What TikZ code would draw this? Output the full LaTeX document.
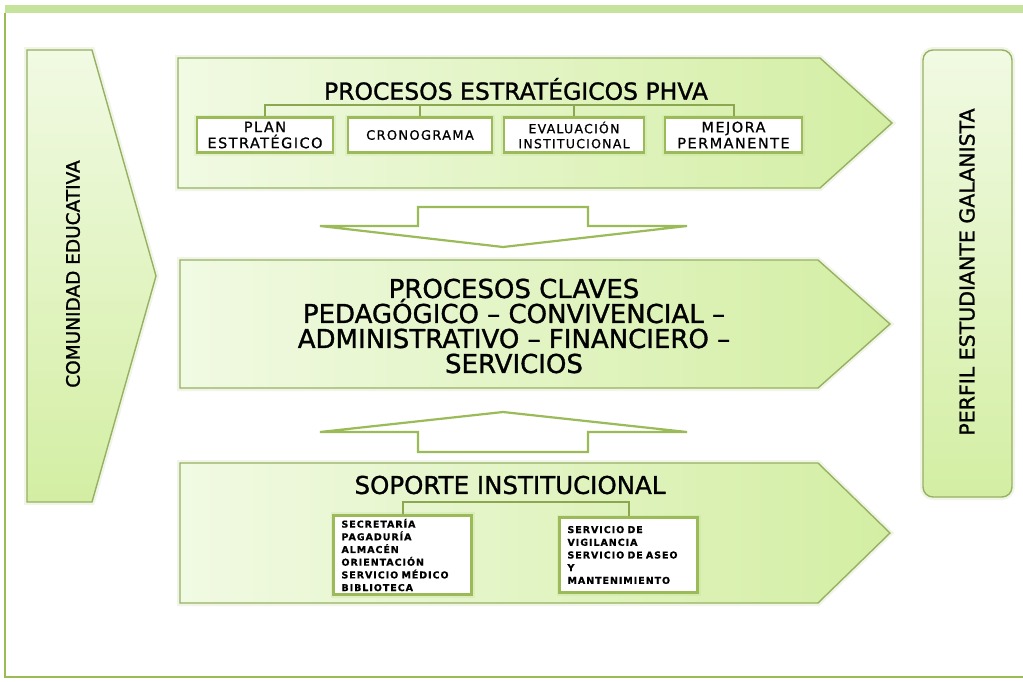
\documentclass[tikz,border=0pt]{standalone}
\usepackage{fontspec}
\setmainfont{DejaVu Sans}
\newfontfamily\heavy{DejaVu Sans}[FakeBold=1.2]
\newfontfamily\spaced{DejaVu Sans}[LetterSpace=10, FakeBold=0.8]
\usetikzlibrary{positioning}
\definecolor{olivec}{HTML}{9BBB59}
\definecolor{limelt}{HTML}{F1FAE3}
\definecolor{limedk}{HTML}{D3EEA3}
\definecolor{bandc}{HTML}{C6E39C}
\pgfdeclarelayer{bg}
\pgfsetlayers{bg,main}
\tikzset{
    glow/.style={preaction={draw=olivec!70, line width=6pt, opacity=.2}},
    bigarrow/.style={draw=olivec!90!black!90, line width=1.4pt, left color=limelt, right color=limedk, glow},
    tallarrow/.style={draw=olivec!90!black!90, line width=1.4pt, top color=limelt, bottom color=limedk, glow},
    hollow/.style={draw=olivec, line width=2.2pt, fill=white},
    subbox/.style={draw=olivec, line width=2.5pt, fill=white, minimum height=35pt, inner sep=1pt, align=center, font=\spaced\fontsize{14.5}{16}\selectfont, glow},
    listbox/.style={draw=olivec, line width=2.5pt, fill=white, minimum height=75pt, inner xsep=8pt, text width=122pt, align=left, font=\spaced\bfseries\fontsize{9.5}{12.7}\selectfont, glow},
    bus/.style={draw=olivec!90!black, line width=2pt},
    head/.style={align=center, inner sep=0pt}
}

\begin{document}
\begin{tikzpicture}[x=1pt,y=-1pt]
        \useasboundingbox (0,0) rectangle (1023,681);
        \clip (0,0) rectangle (1023,681);
        \fill[bandc] (5,5) rectangle (1023,13);
        \draw[olivec, line width=1.5pt] (5,13) -- (5,677) -- (1023,677);
        \node (comunidad) [head, rotate=90, font=\heavy\fontsize{18.5}{22}\selectfont] at (73,274) {COMUNIDAD EDUCATIVA};
        \node (perfil) [head, rotate=90, font=\heavy\fontsize{20.5}{24}\selectfont] at (967,272) {PERFIL ESTUDIANTE GALANISTA};
        \node (estr) [head, font=\heavy\fontsize{23.5}{26}\selectfont] at (516,89) {PROCESOS ESTRATÉGICOS PHVA};
        \node (plan) [subbox, minimum width=136pt] at (265,135) {PLAN\\ESTRATÉGICO};
        \node (crono) [subbox, minimum width=144pt, font=\spaced\fontsize{13}{14}\selectfont] at (420,135) {CRONOGRAMA};
        \node (evalu) [subbox, minimum width=140pt, font=\spaced\fontsize{12.5}{15}\selectfont] at (574,135) {EVALUACIÓN\\INSTITUCIONAL};
        \node (mejora) [subbox, minimum width=137pt] at (733.5,135) {MEJORA\\PERMANENTE};
        \node (claves) [head, font=\heavy\fontsize{26}{25}\selectfont] at (514,326) {PROCESOS CLAVES\\PEDAGÓGICO – CONVIVENCIAL –\\ADMINISTRATIVO – FINANCIERO –\\SERVICIOS};
        \node (soporte) [head, font=\heavy\fontsize{24.5}{26}\selectfont] at (510,485) {SOPORTE INSTITUCIONAL};
        \node (admin) [listbox] at (402.5,555) {SECRETARÍA\\PAGADURÍA\\ALMACÉN\\ORIENTACIÓN\\SERVICIO MÉDICO\\BIBLIOTECA};
        \node (serv) [listbox] at (628.5,555) {SERVICIO DE\\VIGILANCIA\\SERVICIO DE ASEO\\Y\\MANTENIMIENTO};
        \coordinate (bus1) at (0,105);
        \coordinate (bus2) at (0,502);
        \draw[bus] (plan.north) -- (plan.north |- bus1) -- (mejora.north |- bus1) -- (mejora.north);
        \draw[bus] (crono.north) -- (crono.north |- bus1);
        \draw[bus] (evalu.north) -- (evalu.north |- bus1);
        \draw[bus] (admin.north) -- (admin.north |- bus2) -- (serv.north |- bus2) -- (serv.north);
        \begin{pgfonlayer}{bg}
                \path[tallarrow] (27,50) -- (92,50) -- (156,276) -- (92,502) -- (27,502) -- cycle;
                \path[tallarrow, rounded corners=10pt] (923,50) rectangle (1012,497);
                \path[bigarrow] (178,58) -- (820,58) -- (892,123) -- (820,188) -- (178,188) -- cycle;
                \path[bigarrow] (180,260) -- (818,260) -- (890,324) -- (818,388) -- (180,388) -- cycle;
                \path[bigarrow] (180,463) -- (818,463) -- (890,533) -- (818,603) -- (180,603) -- cycle;
                \draw[hollow] (418,207) -- (588,207) -- (588,226) -- (687,226) -- (503,247) -- (320,226) -- (418,226) -- cycle;
                \draw[hollow] (503,412) -- (687,432) -- (588,432) -- (588,452) -- (418,452) -- (418,432) -- (320,432) -- cycle;
        \end{pgfonlayer}
\end{tikzpicture}
\end{document}
